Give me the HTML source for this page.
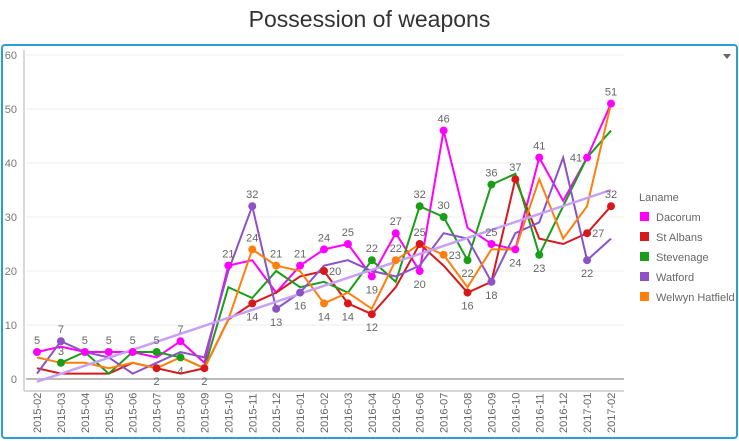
<!DOCTYPE html>
<html><head><meta charset="utf-8">
<style>
body{margin:0;width:739px;height:441px;background:#fff;font-family:"Liberation Sans",sans-serif;overflow:hidden;position:relative}
#title{position:absolute;left:0;top:6px;width:739px;text-align:center;font-size:23px;color:#333}
#frame{position:absolute;left:1px;top:44px;width:733px;height:391px;border:2px solid #2a9fd6;border-radius:4px}
svg{position:absolute;left:0;top:0}
</style></head><body>
<div id="title">Possession of weapons</div>
<div id="frame"></div>
<svg id="c" width="739" height="441"></svg>
<script>
const categories=["2015-02","2015-03","2015-04","2015-05","2015-06","2015-07","2015-08","2015-09","2015-10","2015-11","2015-12","2016-01","2016-02","2016-03","2016-04","2016-05","2016-06","2016-07","2016-08","2016-09","2016-10","2016-11","2016-12","2017-01","2017-02"];
const seriesNames=["Dacorum","St Albans","Stevenage","Watford","Welwyn Hatfield"];
const colors=["#ff00ff","#d7191c","#1a9e1a","#8c52c6","#ff7f0e"];
const dacorum=[5,6,5,5,5,4,7,3,21,22,16,21,24,25,19,27,20,46,28,25,24,41,33,41,51];
const stAlbans=[2,1,1,1,3,2,1,2,11,14,16,19,20,14,12,17,25,21,16,18,37,26,25,27,32];
const stevenage=[null,3,5,1,5,5,4,2,17,15,20,17,18,16,22,18,32,30,22,36,38,23,32,41,46];
const watford=[1,7,5,4,1,3,5,4,20,32,13,16,21,22,20,19,21,27,26,18,27,29,41,22,26];
const welwyn=[4,3,3,2,3,2,4,2,11,24,21,20,14,16,13,22,25,23,17,24,24,37,26,32,51];
const trendStart=-0.5, trendEnd=35;
const yTicks=[0,10,20,30,40,60,50];
// labels: [series, category, position]
const labels=[[0,0,"a"],[0,2,"a"],[0,3,"a"],[0,4,"a"],[0,6,"a"],[0,8,"a"],[0,11,"a"],[0,12,"a"],[0,13,"a"],[0,14,"b"],[0,15,"a"],[0,16,"b"],[0,17,"a"],[0,19,"a"],[0,20,"b"],[0,21,"a"],[0,23,"l"],[0,24,"a"],
[1,5,"b"],[1,7,"b"],[1,9,"b"],[1,12,"r"],[1,13,"b"],[1,14,"b"],[1,16,"a"],[1,18,"b"],[1,20,"a"],[1,23,"r"],[1,24,"a"],
[2,1,"a"],[2,5,"a"],[2,6,"b"],[2,14,"a"],[2,16,"a"],[2,17,"a"],[2,18,"b"],[2,19,"a"],[2,21,"b"],
[3,1,"a"],[3,9,"a"],[3,10,"b"],[3,11,"b"],[3,19,"b"],[3,23,"b"],
[4,9,"a"],[4,10,"a"],[4,12,"b"],[4,15,"a"],[4,17,"r"]];
const data=[dacorum,stAlbans,stevenage,watford,welwyn];
const svg=document.getElementById('c');const NS="http://www.w3.org/2000/svg";
const x0=37,x1=611,yZero=379,pxPer=5.4;
const X=i=>x0+(x1-x0)*i/(categories.length-1);
const Y=v=>yZero-v*pxPer;
function el(t,a,txt){const e=document.createElementNS(NS,t);for(const k in a)e.setAttribute(k,a[k]);if(txt!==undefined)e.textContent=txt;svg.appendChild(e);return e;}
yTicks.forEach(t=>{
 const g=el('line',{x1:26,x2:624,y1:Y(t),y2:Y(t),stroke:t===0?'#bbb':'#eee','stroke-width':t===0?2:1});
 
 
 const l=el('text',{x:17,y:Y(t)+4,'text-anchor':'end','font-size':11,fill:'#777'},t);
 
 
});
const ax=el('line',{x1:24,x2:624,y1:391,y2:391,stroke:'#ccc','stroke-width':1.5});


const ay=el('line',{x1:24,x2:24,y1:50,y2:391,stroke:'#ccc','stroke-width':1.5});


categories.forEach((c,i)=>{
 const t=el('text',{x:0,y:0,transform:`translate(${X(i)+4},433) rotate(-90)`,'font-size':11,fill:'#666'},c);
 
 
});
data.forEach((s,si)=>{
 let d='';s.forEach((v,i)=>{if(v===null)return;d+=(d?'L':'M')+X(i)+','+Y(v);});
 const p=el('path',{d:d,fill:'none',stroke:colors[si],'stroke-width':2});
 
 
});
const tr=el('line',{x1:X(0),y1:Y(trendStart),x2:X(categories.length-1),y2:Y(trendEnd),stroke:'#c7a0f5','stroke-width':2.5});


labels.forEach(([si,ci,pos])=>{
 const v=data[si][ci];const cx=X(ci),cy=Y(v);
 const m=el('circle',{cx:cx,cy:cy,r:4,fill:colors[si]});
 
 
 let tx=cx,ty=cy-8,anc='middle';
 if(pos==='b')ty=cy+17;if(pos==='r'){tx=cx+5;ty=cy+4;anc='start';}if(pos==='l'){tx=cx-5;ty=cy+4;anc='end';}
 const t=el('text',{x:tx,y:ty,'text-anchor':anc,'font-size':11,fill:'#666'},v);
 
 
});
const lt=el('text',{x:639,y:201,'font-size':11,fill:'#666'},'Laname');


seriesNames.forEach((n,i)=>{
 const y=217+i*20;
 const r=el('rect',{x:640,y:y-5,width:9,height:9,fill:colors[i]});
 
 
 const t=el('text',{x:656,y:y+4,'font-size':11,fill:'#666'},n);
 
 
});
const mn=el('path',{d:'M723,54 L731,54 L727,59 Z',fill:'#666'});


</script>
</body></html>
